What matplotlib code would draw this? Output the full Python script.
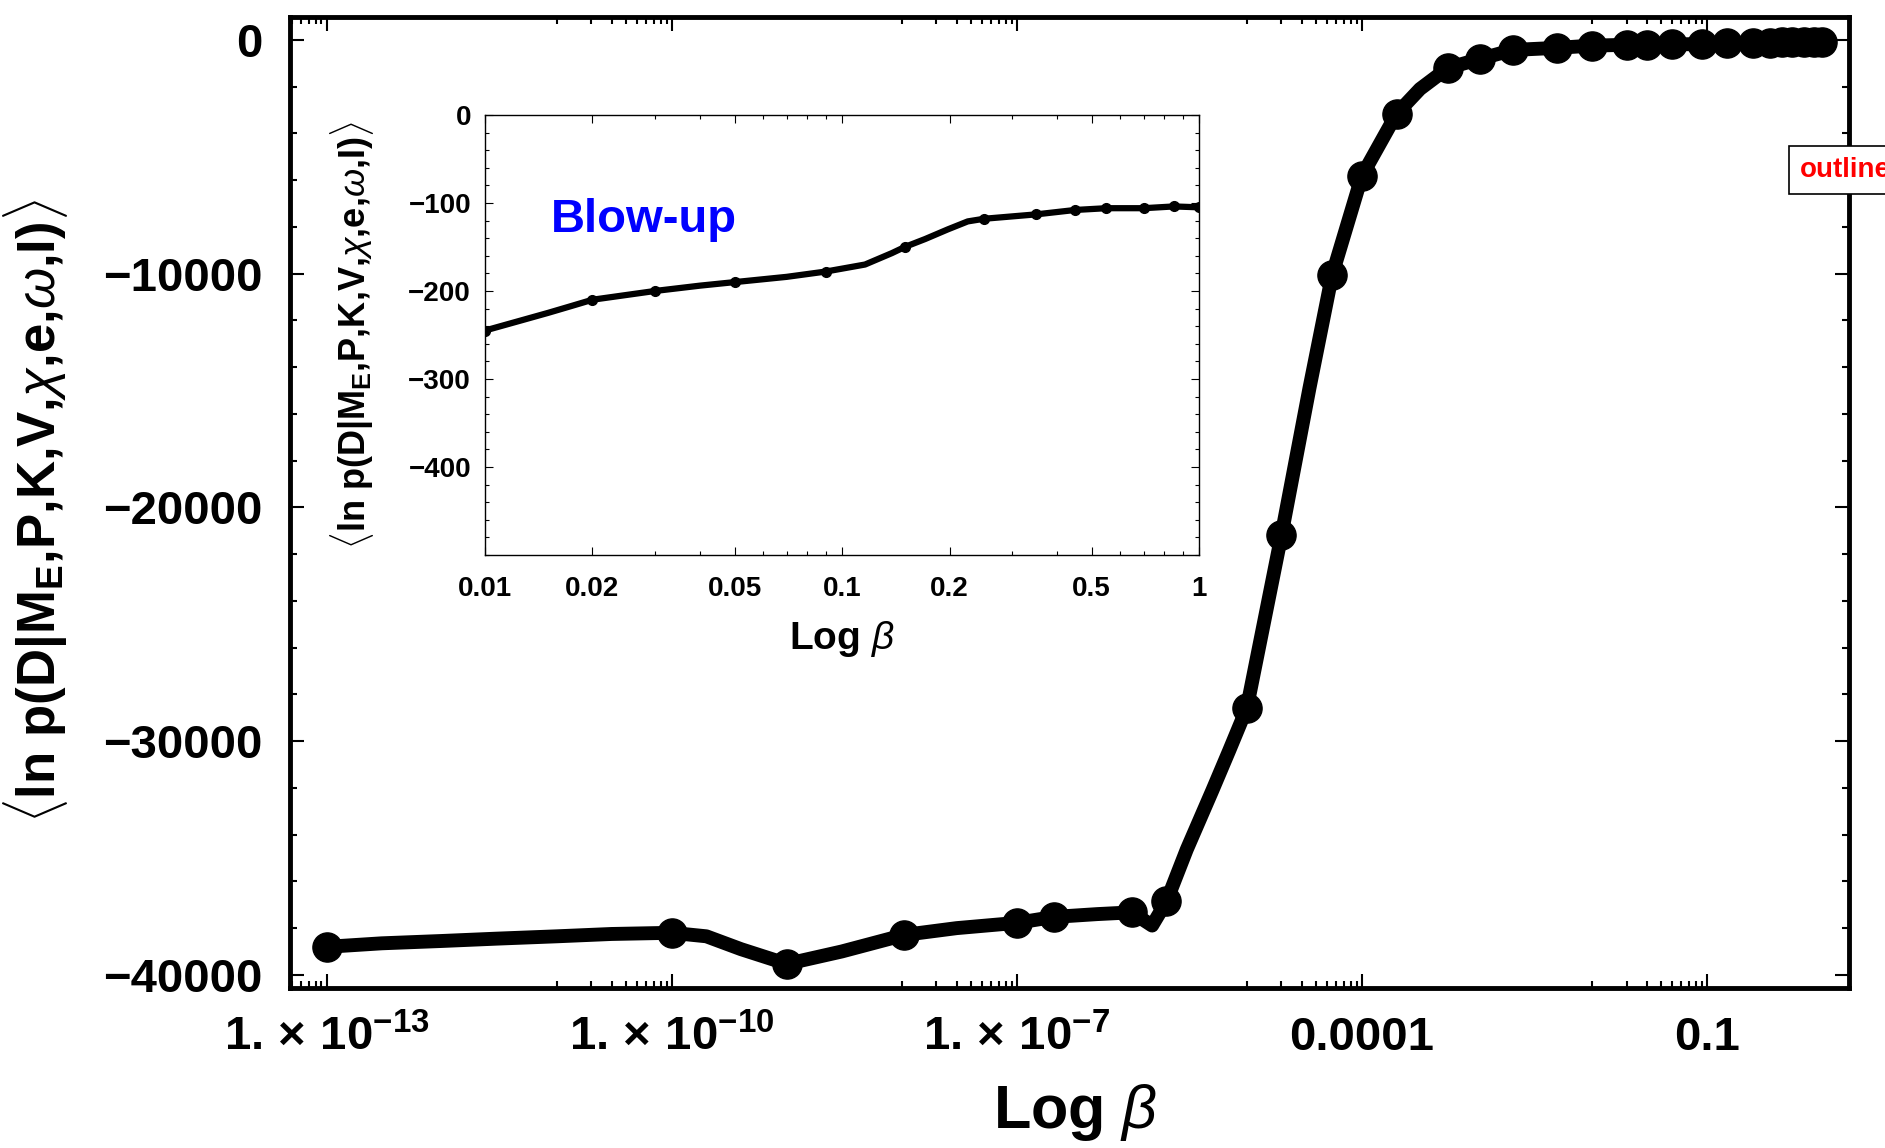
import numpy as np
import matplotlib
matplotlib.use('Agg')
import matplotlib.pyplot as plt
from matplotlib.ticker import FixedLocator, FixedFormatter, NullFormatter, MultipleLocator

plt.rcParams['font.family'] = ['Liberation Sans', 'DejaVu Sans']
plt.rcParams['font.weight'] = 'bold'
plt.rcParams['axes.labelweight'] = 'bold'
plt.rcParams['mathtext.fontset'] = 'custom'
plt.rcParams['mathtext.rm'] = 'Liberation Sans:bold'
plt.rcParams['mathtext.bf'] = 'Liberation Sans:bold'
plt.rcParams['mathtext.it'] = 'Liberation Sans:style=italic:weight=normal'

# sampled beta values (markers) and <ln p(D|...)>
beta_pts = [1e-13, 1e-10, 1e-9, 1.05e-8, 1e-7, 2.1e-7, 1e-6, 2e-6, 1e-5, 2e-5,
            5.5e-5, 1e-4, 2e-4, 5.6e-4, 1.07e-3, 2.05e-3, 5e-3, 0.01, 0.02, 0.03,
            0.05, 0.09, 0.15, 0.25, 0.35, 0.45, 0.55, 0.7, 0.85, 1.0]
lnp_pts = [-38800, -38200, -39530, -38290, -37775, -37520, -37325, -36860, -28580, -21180,
           -10075, -5820, -3166, -1200, -810, -430, -340, -245, -210, -200,
           -190, -178, -150, -118, -113, -108, -106, -106, -104, -105]

# extra points of the continuous curve between the markers
beta_extra = [3e-13, 1e-12, 3e-12, 1e-11, 3e-11, 2e-10, 4e-10, 3e-9, 3e-8, 5e-7,
              1.5e-6, 3e-6, 5e-6, 7e-6, 3.5e-5, 3.2e-4,
              0.0125, 0.015, 0.0175, 0.04, 0.07, 0.116, 0.138, 0.171, 0.198, 0.225]
lnp_extra = [-38650, -38550, -38450, -38350, -38250, -38350, -38900, -39000, -38000, -37400,
             -37890, -34640, -32120, -30420, -14900, -2100,
             -234, -225, -217, -194, -184, -170, -157, -141, -130, -121]

xtick_vals = [1e-13, 1e-10, 1e-7, 1e-4, 0.1]
xtick_labels = [r'1.$\,\times\,$10$^{\mathbf{-13}}$', r'1.$\,\times\,$10$^{\mathbf{-10}}$',
                r'1.$\,\times\,$10$^{\mathbf{-7}}$', '0.0001', '0.1']
ytick_vals = [0, -10000, -20000, -30000, -40000]
ytick_labels = ['0', '\u221210000', '\u221220000', '\u221230000', '\u221240000']

in_xtick_vals = [0.01, 0.02, 0.05, 0.1, 0.2, 0.5, 1]
in_xtick_labels = ['0.01', '0.02', '0.05', '0.1', '0.2', '0.5', '1']
in_ytick_vals = [0, -100, -200, -300, -400]
in_ytick_labels = ['0', '\u2212100', '\u2212200', '\u2212300', '\u2212400']

ylabel = r'$\langle$ln p(D|M$_{\mathbf{E}}$,P,K,V,$\chi$,e,$\omega$,I)$\rangle$'
xlabel = r'Log $\beta$'

# curve = markers + extra points, sorted by beta
cx = np.array(beta_pts + beta_extra)
cy = np.array(lnp_pts + lnp_extra)
order = np.argsort(cx)
cx, cy = cx[order], cy[order]

fig = plt.figure(figsize=(18.85, 11.48), dpi=100)
ax = fig.add_axes([0.1538, 0.1394, 0.8271, 0.8458])

ax.plot(cx, cy, '-', color='k', lw=10, solid_joinstyle='round', solid_capstyle='round')
ax.plot(beta_pts, lnp_pts, 'o', color='k', ms=21)
ax.set_xscale('log')
ax.set_xlim(10**-13.32, 10**0.235)
ax.set_ylim(-40560, 980)

minors = []
for m in xtick_vals:
    minors += [k * m / 10 for k in range(1, 10)]
ax.xaxis.set_major_locator(FixedLocator(xtick_vals))
ax.xaxis.set_major_formatter(FixedFormatter(xtick_labels))
ax.xaxis.set_minor_locator(FixedLocator(minors))
ax.xaxis.set_minor_formatter(NullFormatter())
ax.yaxis.set_major_locator(FixedLocator(ytick_vals))
ax.yaxis.set_major_formatter(FixedFormatter(ytick_labels))
ax.yaxis.set_minor_locator(MultipleLocator(2000))

for s in ax.spines.values():
    s.set_linewidth(3.5)
ax.tick_params(which='both', direction='in', top=True, right=True, width=1.5)
ax.tick_params(which='major', length=10, labelsize=34, pad=20)
ax.tick_params(which='minor', length=5)

ax.set_ylabel(ylabel, fontsize=38)
ax.yaxis.set_label_coords(-0.141, 0.491)
ax.set_xlabel(xlabel, fontsize=44)
ax.xaxis.set_label_coords(0.504, -0.097)

# inset blow-up
axin = fig.add_axes([0.2573, 0.5166, 0.3788, 0.3833])
axin.plot(cx, cy, '-', color='k', lw=4.5, solid_joinstyle='round')
axin.plot(beta_pts, lnp_pts, 'o', color='k', ms=7)
axin.set_xscale('log')
axin.set_xlim(0.01, 1)
axin.set_ylim(-500, 0)
axin.xaxis.set_major_locator(FixedLocator(in_xtick_vals))
axin.xaxis.set_major_formatter(FixedFormatter(in_xtick_labels))
axin.xaxis.set_minor_locator(FixedLocator([0.03, 0.04, 0.06, 0.07, 0.08, 0.09,
                                           0.3, 0.4, 0.6, 0.7, 0.8, 0.9]))
axin.xaxis.set_minor_formatter(NullFormatter())
axin.yaxis.set_major_locator(FixedLocator(in_ytick_vals))
axin.yaxis.set_major_formatter(FixedFormatter(in_ytick_labels))
axin.yaxis.set_minor_locator(MultipleLocator(20))
for s in axin.spines.values():
    s.set_linewidth(1.0)
axin.tick_params(which='both', direction='in', top=True, right=True, width=0.8)
axin.tick_params(which='major', length=6, labelsize=20)
axin.tick_params(axis='x', which='major', pad=15)
axin.tick_params(axis='y', which='major', pad=10)
axin.tick_params(which='minor', length=3)
axin.set_ylabel(ylabel, fontsize=26)
axin.yaxis.set_label_coords(-0.152, 0.5)
axin.set_xlabel(xlabel, fontsize=28)
axin.xaxis.set_label_coords(0.5, -0.145)
axin.text(0.0153, -133, 'Blow-up', color='blue', fontsize=34, ha='left', va='baseline')

fig.text(1800 / 1885, 1 - 170 / 1148, 'outline', color='red', fontsize=20,
         ha='left', va='center',
         bbox=dict(boxstyle='square,pad=0.4', fc='white', ec='black', lw=1.2))

fig.savefig('out.png', dpi=100)
